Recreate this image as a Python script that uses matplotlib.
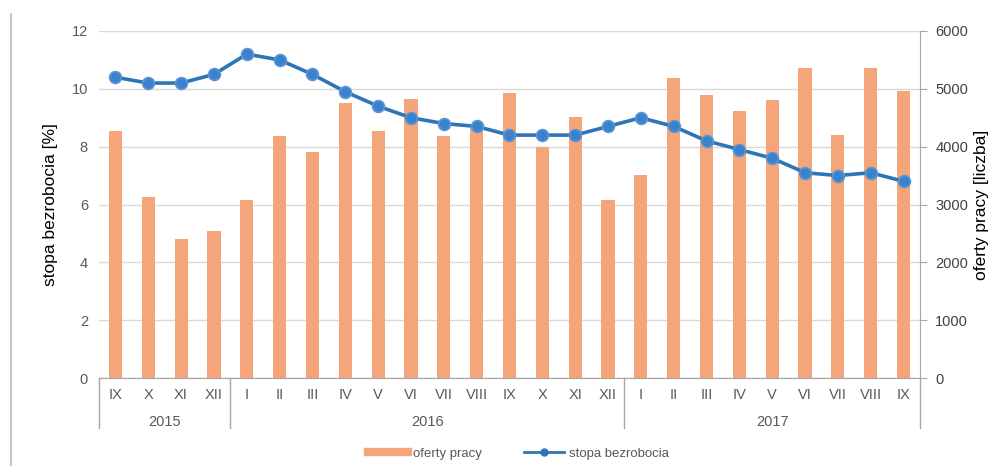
import numpy as np
import matplotlib.pyplot as plt
from matplotlib.lines import Line2D
import matplotlib.transforms as mtransforms

plt.rcParams['font.family'] = ['Liberation Sans', 'DejaVu Sans']

# dane
months = ['IX', 'X', 'XI', 'XII',
          'I', 'II', 'III', 'IV', 'V', 'VI', 'VII', 'VIII', 'IX', 'X', 'XI', 'XII',
          'I', 'II', 'III', 'IV', 'V', 'VI', 'VII', 'VIII', 'IX']
years = ['2015', '2016', '2017']
year_counts = [4, 12, 9]
oferty = [4270, 3125, 2400, 2550,
          3070, 4180, 3900, 4755, 4270, 4820, 4180, 4330, 4920, 4000, 4505, 3085,
          3505, 5195, 4900, 4610, 4800, 5355, 4195, 5355, 4960]
stopa = [10.4, 10.2, 10.2, 10.5,
         11.2, 11.0, 10.5, 9.9, 9.4, 9.0, 8.8, 8.7, 8.4, 8.4, 8.4, 8.7,
         9.0, 8.7, 8.2, 7.9, 7.6, 7.1, 7.0, 7.1, 6.8]

bar_color = '#F4A57A'
line_color = '#2E75B6'
grid_color = '#D9D9D9'
axis_color = '#A6A6A6'
text_color = '#595959'

x = np.arange(len(months))

fig = plt.figure(figsize=(9.92, 4.66), dpi=100)
ax = fig.add_axes([0.0998, 0.1888, 0.8276, 0.7447])
ax2 = ax.twinx()

# słupki na prawej osi, linia na lewej
ax2.bar(x, oferty, width=0.4, color=bar_color, zorder=2, label='oferty pracy')
ax.set_zorder(ax2.get_zorder() + 1)
ax.patch.set_visible(False)
ax.plot(x, stopa, color=line_color, lw=2.6, marker='o', markersize=8.5,
        markerfacecolor='#3B82CC', markeredgecolor='#5A95D6', markeredgewidth=1.2,
        label='stopa bezrobocia', zorder=3)

ax.set_xlim(-0.5, len(months) - 0.5)
ax.set_ylim(0, 12)
ax.set_yticks(np.arange(0, 13, 2))
ax2.set_ylim(0, 6000)
ax2.set_yticks(np.arange(0, 6001, 1000))

# siatka rysowana na osi słupków, żeby była pod nimi
ax2.grid(axis='y', color=grid_color, lw=1, zorder=0)
ax2.set_axisbelow(True)

for a in (ax, ax2):
    for s in ['top', 'left', 'right']:
        a.spines[s].set_visible(False)
    a.spines['bottom'].set_color(axis_color)
ax2.spines['right'].set_visible(True)
ax2.spines['right'].set_color(axis_color)

ax.tick_params(axis='y', length=0, labelsize=10.5, labelcolor=text_color, pad=8)
ax2.tick_params(axis='y', length=5, color=axis_color, labelsize=10.5,
                labelcolor='#404040', pad=6)

ax.set_xticks(x)
ax.set_xticklabels(months)
ax.tick_params(axis='x', length=0, labelsize=10.5, labelcolor=text_color, pad=7)

ax.set_ylabel('stopa bezrobocia [%]', fontsize=12.5, color='black', labelpad=10)
ax2.set_ylabel('oferty pracy [liczba]', fontsize=12.5, color='black', labelpad=4)

# druga linia opisu osi: lata
trans = mtransforms.blended_transform_factory(ax.transData, ax.transAxes)
start = -0.5
ax.add_line(Line2D([start, start], [0, -0.145], transform=trans, color=axis_color,
                   lw=1, clip_on=False))
for yr, n in zip(years, year_counts):
    end = start + n
    ax.add_line(Line2D([end, end], [0, -0.145], transform=trans, color=axis_color,
                       lw=1, clip_on=False))
    ax.text((start + end) / 2, -0.128, yr, transform=trans, ha='center', va='center',
            fontsize=10.5, color=text_color)
    start = end

# legenda
h1, l1 = ax2.get_legend_handles_labels()
h2, l2 = ax.get_legend_handles_labels()
h1 = [Line2D([0], [0], color=bar_color, lw=6)]
h2 = [Line2D([0], [0], color=line_color, lw=2, marker='o', markersize=5)]
fig.legend(h1 + h2, l1 + l2, loc='center', bbox_to_anchor=(0.523, 0.027), ncol=2,
           frameon=False, fontsize=9.5, labelcolor=text_color, handlelength=3.0,
           columnspacing=3.2, handletextpad=0.4)

# ramka z lewej strony
fig.add_artist(Line2D([0.0115, 0.0115], [0.0, 0.97], color='#C8C8C8', lw=1.5))

fig.savefig('out.png', dpi=100)
